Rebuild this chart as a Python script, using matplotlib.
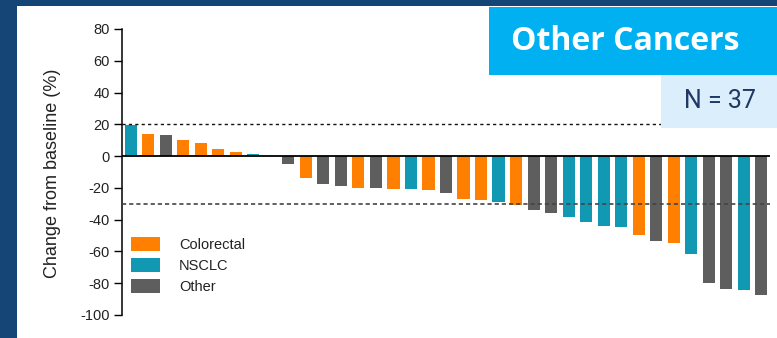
import matplotlib
matplotlib.use("Agg")
import matplotlib.pyplot as plt
from matplotlib.patches import Rectangle, Patch

# ---- data ----
values = [19.5, 14.0, 13.3, 10.0, 8.2, 4.5, 2.5, 1.2, 0.0,
          -5.0, -13.9, -17.6, -18.9, -20.2, -20.2, -20.8, -20.8, -21.4, -23.3,
          -27.1, -27.7, -29.0, -30.7, -34.0, -35.9, -38.4, -41.6, -44.1, -44.7,
          -49.8, -53.5, -54.8, -61.7, -80.0, -83.8, -84.4, -87.6]
types = ["NSCLC", "Colorectal", "Other", "Colorectal", "Colorectal", "Colorectal",
         "Colorectal", "NSCLC", "Other",
         "Other", "Colorectal", "Other", "Other", "Colorectal", "Other", "Colorectal",
         "NSCLC", "Colorectal", "Other", "Colorectal", "Colorectal", "NSCLC",
         "Colorectal", "Other", "Other", "NSCLC", "NSCLC", "NSCLC", "NSCLC",
         "Colorectal", "Other", "Colorectal", "NSCLC", "Other", "Other", "NSCLC", "Other"]
legend_labels = ["Colorectal", "NSCLC", "Other"]
yticks = [-100, -80, -60, -40, -20, 0, 20, 40, 60, 80]
thresholds = [20, -30]
title = "Other Cancers"
n_label = "N = 37"

palette = {"Colorectal": "#FF8000", "NSCLC": "#1199B4", "Other": "#5E5E5E"}

W, H = 777, 338
fig = plt.figure(figsize=(W / 100, H / 100), dpi=100)
fig.patch.set_facecolor("white")

# axes placement (pixel-derived)
ax_l, ax_r, ax_t, ax_b = 122, 770, 29, 315
ax = fig.add_axes([ax_l / W, 1 - ax_b / H, (ax_r - ax_l) / W, (ax_b - ax_t) / H])

x = list(range(1, len(values) + 1))
ax.bar(x, values, width=0.69, color=[palette[t] for t in types], zorder=2)

ax.set_xlim(0.5, len(values) + 0.5)
ax.set_ylim(-100, 80)
ax.axhline(0, color="black", lw=1.3, zorder=3)
ax.axhline(thresholds[0], color="#111111", lw=1.0, ls=(0, (2.3, 2.3)), zorder=4)
ax.axhline(thresholds[1], color="#444444", lw=1.2, ls=(0, (2.5, 1.8)), zorder=4)

for s in ["top", "right", "bottom"]:
    ax.spines[s].set_visible(False)
ax.spines["left"].set_linewidth(1.1)
ax.set_xticks([])
ax.set_yticks(yticks)
ax.set_yticklabels([str(v) for v in yticks], fontsize=10.5, color="#222222",
                   family="Liberation Sans")
ax.tick_params(axis="y", length=6, width=1.0, pad=3, direction="out")

fig.text(53 / W, 1 - 173.5 / H, "Change from baseline (%)", rotation=90,
         ha="center", va="center", fontsize=13, color="#222222",
         family="Liberation Sans")

handles = [Patch(facecolor=palette[k], edgecolor="none") for k in legend_labels]
leg = fig.legend(handles, legend_labels, loc="upper left",
                 bbox_to_anchor=(131 / W, 1 - 237 / H), frameon=False,
                 prop={"family": "Liberation Sans", "size": 10.5},
                 handlelength=2.0, handleheight=1.1, handletextpad=1.3,
                 labelspacing=0.42, borderpad=0, borderaxespad=0)
for t in leg.get_texts():
    t.set_color("#222222")

# frame decorations
fig.add_artist(Rectangle((0, 0), 17 / W, 1, transform=fig.transFigure,
                         facecolor="#154577", edgecolor="none", zorder=5))
fig.add_artist(Rectangle((0, 1 - 6 / H), 1, 6 / H, transform=fig.transFigure,
                         facecolor="#154577", edgecolor="none", zorder=5))
fig.add_artist(Rectangle((489 / W, 1 - 75 / H), 288 / W, 68 / H,
                         transform=fig.transFigure, facecolor="#00B0F0",
                         edgecolor="none", zorder=5))
fig.text(625 / W, 1 - 42 / H, title, ha="center", va="center", color="white",
         fontsize=23, fontweight="bold", family="Open Sans", zorder=6)
fig.add_artist(Rectangle((661 / W, 1 - 128 / H), 116 / W, 53 / H,
                         transform=fig.transFigure, facecolor="#DAEEFB",
                         edgecolor="none", zorder=5))
fig.text(720 / W, 1 - 101 / H, n_label, ha="center", va="center",
         color="#1F3864", fontsize=18, family="Roboto", zorder=6)

fig.savefig("out.png", dpi=100)
